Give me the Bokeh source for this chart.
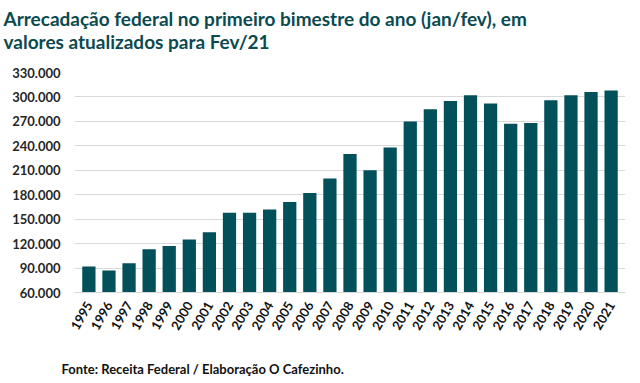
from bokeh.plotting import figure
from bokeh.models import ColumnDataSource, FixedTicker, Title, Range1d, FactorRange
from bokeh.embed import file_html
from bokeh.resources import INLINE
import math

years = [str(y) for y in range(1995, 2022)]
values = [92000, 87000, 96000, 113000, 117000, 125000, 134000, 158000, 158000, 162000,
          171000, 182000, 200000, 230000, 210000, 238000, 270000, 285000, 295000, 302000,
          292000, 267000, 268000, 296000, 302000, 306000, 308000]
y_ticks = [60000, 90000, 120000, 150000, 180000, 210000, 240000, 270000, 300000, 330000]
y_tick_labels = ["60.000", "90.000", "120.000", "150.000", "180.000", "210.000",
                 "240.000", "270.000", "300.000", "330.000"]

title_lines = ["Arrecadação federal no primeiro bimestre do ano (jan/fev), em",
               "valores atualizados para Fev/21"]
footer = "Fonte: Receita Federal  / Elaboração O Cafezinho."

BAR = "#02505A"
TITLE_C = "#0B4A50"

src = ColumnDataSource(dict(year=years, value=values, base=[60000] * len(years)))

xr = FactorRange(factors=years, range_padding=0.016, range_padding_units="percent")
p = figure(width=632, height=380, x_range=xr, y_range=Range1d(60000, 330000),
           output_backend="svg", toolbar_location=None,
           min_border_left=74, min_border_right=7, min_border_top=72, min_border_bottom=88)
p.title = None
p.vbar(x="year", top="value", bottom="base", width=0.66, source=src,
       fill_color=BAR, line_color=None)

# spacer panels (blank) to place title and footer
p.add_layout(Title(text=" ", text_font_size="2px", standoff=18, text_color="white"), "below")
p.add_layout(Title(text=footer, text_font="Lato", text_font_size="13px",
                   text_font_style="bold", text_color="#111111", align="left",
                   offset=-13, standoff=0), "below")
p.add_layout(Title(text=" ", text_font_size="2px", standoff=12, text_color="white"), "above")
p.add_layout(Title(text="\n".join(title_lines), text_font="Lato", text_font_size="19px",
                   text_font_style="bold", text_color=TITLE_C, align="left",
                   text_line_height=1.0, offset=-71, standoff=7), "above")

p.outline_line_color = None
p.background_fill_color = "white"
p.border_fill_color = "white"

p.xgrid.grid_line_color = None
p.ygrid.grid_line_color = "#D9D9D9"
p.ygrid.grid_line_width = 1

p.yaxis.ticker = FixedTicker(ticks=y_ticks)
p.yaxis.major_label_overrides = {t: l for t, l in zip(y_ticks, y_tick_labels)}
p.yaxis.axis_line_color = None
p.yaxis.major_tick_line_color = None
p.yaxis.minor_tick_line_color = None
p.yaxis.major_label_text_font = "Lato"
p.yaxis.major_label_text_font_style = "bold"
p.yaxis.major_label_text_font_size = "13px"
p.yaxis.major_label_text_color = "#262626"
p.yaxis.major_label_standoff = 8

p.xaxis.axis_line_color = "#D9D9D9"
p.xaxis.major_tick_line_color = None
p.xaxis.major_label_orientation = math.pi / 3
p.xaxis.major_label_text_font = "Lato"
p.xaxis.major_label_text_font_style = "bold"
p.xaxis.major_label_text_font_size = "13px"
p.xaxis.major_label_text_color = "#111111"
p.xaxis.major_label_standoff = 4

open("out.html", "w").write(file_html(p, INLINE))
